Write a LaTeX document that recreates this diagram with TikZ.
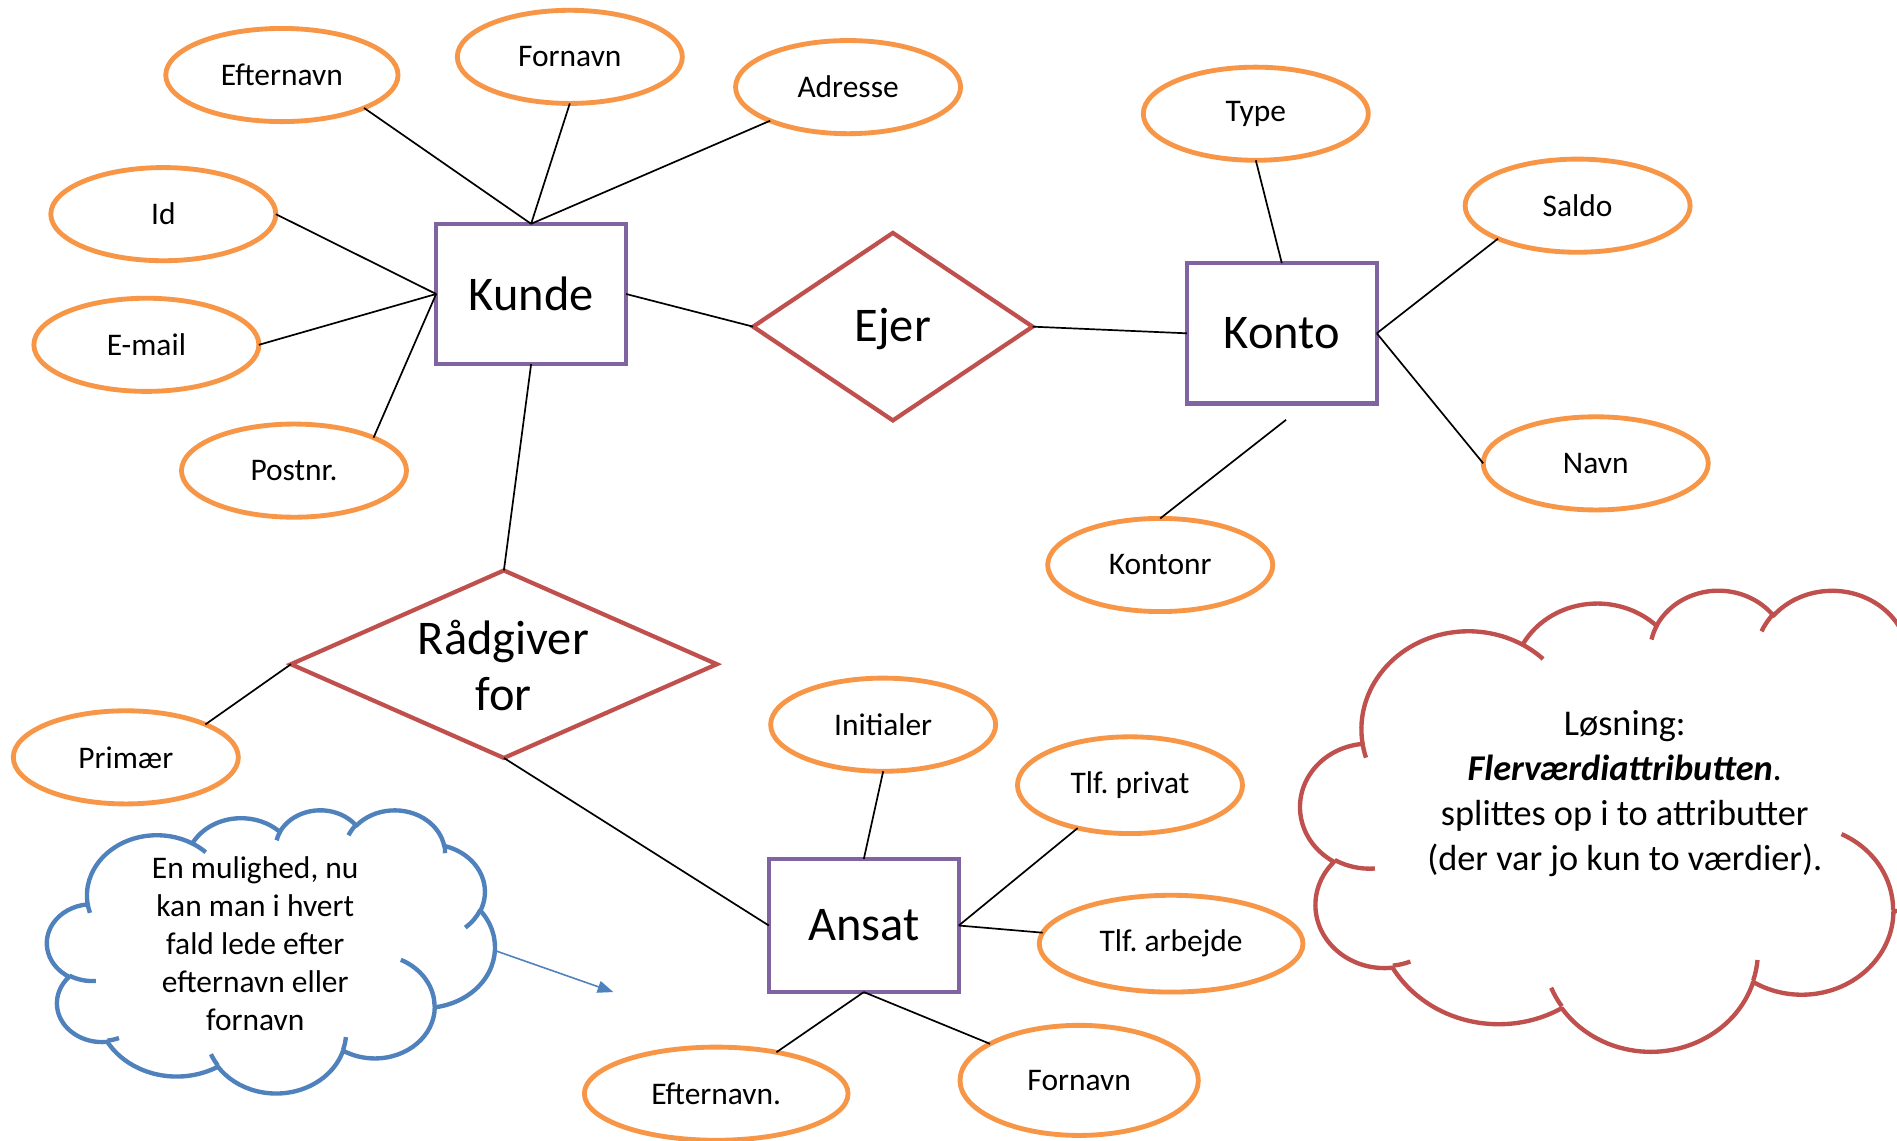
\documentclass[tikz,border=0pt]{standalone}
\usepackage{fontspec}
\setmainfont{Carlito}
\frenchspacing
\usetikzlibrary{shapes.geometric,arrows.meta}
\definecolor{attrorange}{HTML}{F79646}
\definecolor{entpurple}{HTML}{8064A2}
\definecolor{relred}{HTML}{C0504D}
\definecolor{noteblue}{HTML}{4F81BD}
% OOXML-style arcTo: x radius, y radius, start (visual) angle, sweep
\newcommand{\carc}[4]{arc[start angle={atan2(#1*sin(#3),#2*cos(#3))}, delta angle={mod(atan2(#1*sin(#3+#4),#2*cos(#3+#4))-atan2(#1*sin(#3),#2*cos(#3))+720,360)}, x radius=#1pt, y radius=#2pt]}
\newcommand{\cloudouter}{(9.028,33.264)
  \carc{15.632}{21.273}{-190.4875}{123.7805}
  \carc{12.345}{16.822}{-144.1024}{89.9452}
  \carc{10.104}{13.762}{-145.8079}{99.7230}
  \carc{11.243}{15.266}{-130.9861}{117.2417}
  \carc{12.345}{16.836}{-78.7089}{109.0269}
  \carc{15.683}{21.343}{-46.2673}{130.2690}
  \carc{13.391}{18.211}{0.6250}{114.0333}
  \carc{15.630}{21.331}{22.4516}{115.1726}
  \carc{17.870}{24.405}{66.2426}{75.7110}
  \carc{10.093}{13.699}{-274.9421}{146.7356}
  \carc{10.058}{13.762}{-246.8285}{152.5189} -- cycle}
\newcommand{\cloudinner}{%
  (10.863,60.595) \carc{10.058}{13.762}{86.742}{26.430}
  (16.037,80.785) \carc{10.093}{13.699}{73.610}{11.447}
  (38.144,90.486) \carc{15.630}{21.331}{137.624}{14.081}
  (66.729,80.442) \carc{15.630}{21.331}{6.453}{15.998}
  (79.002,53.134) \carc{13.391}{18.211}{-70.292}{70.917}
  (96.755,35.542) \carc{12.345}{16.836}{30.318}{27.752}
  (88.713,12.560) \carc{11.243}{15.266}{-13.744}{14.859}
  (67.310,9.148)  \carc{11.243}{15.266}{-149.181}{18.195}
  (51.252,10.926) \carc{10.104}{13.762}{-163.494}{17.686}
  (32.407,12.019) \carc{15.632}{21.273}{-66.707}{12.319}
  (9.553,36.549)  \carc{15.632}{21.273}{157.654}{11.858}}
\begin{document}
\begin{tikzpicture}[x=1pt,y=-1pt,
  attr/.style={ellipse, draw=attrorange, line width=4pt, fill=white, inner sep=0pt, outer sep=0pt,
    minimum width=186pt, minimum height=77pt, font=\fontsize{26}{31}\selectfont},
  ent/.style={rectangle, draw=entpurple, line width=3.5pt, fill=white, inner sep=0pt, outer sep=0pt,
    minimum width=157pt, minimum height=116pt, font=\fontsize{40}{48}\selectfont},
  rel/.style={diamond, draw=relred, line width=3.5pt, inner sep=0pt, outer sep=0pt},
  reltext/.style={font=\fontsize{40}{46}\selectfont, align=center, inner sep=0pt},
  conn/.style={black, line width=1.4pt},
  cloudline/.style={line width=3.6pt, line join=round},
  notetext/.style={align=center, inner sep=0pt}]
\fill[white] (0,0) rectangle (1568,943);
\useasboundingbox (0,0) rectangle (1568,943);

% entities
\node[ent] (kunde) at (439,243) {Kunde};
\node[ent] (konto) at (1059.5,275.5) {Konto};
\node[ent, minimum height=110pt] (ansat) at (714,765) {Ansat};

% relationships
\node[rel, minimum width=231pt, minimum height=155pt] (ejer) at (738,270) {};
\node[reltext] at (738,272) {Ejer};
\node[rel, minimum width=352pt, minimum height=155pt] (raad) at (416.5,549) {};
\node[reltext] at (416,550) {Rådgiver\\for};

% attributes
\node[attr, minimum width=192pt] (ef1) at (233,62) {Efternavn};
\node[attr] (fo1) at (471,47) {Fornavn};
\node[attr] (ad) at (701,72) {Adresse};
\node[attr] (id) at (135,177) {Id};
\node[attr] (em) at (121,285) {E-mail};
\node[attr] (po) at (243,389) {Postnr.};
\node[attr] (ty) at (1038,94) {Type};
\node[attr] (sa) at (1304,170) {Saldo};
\node[attr] (na) at (1319,383) {Navn};
\node[attr] (ko) at (959,467) {Kontonr};
\node[attr] (pr) at (104,626) {Primær};
\node[attr] (in) at (730,599) {Initialer};
\node[attr, minimum height=80pt] (tp) at (934,649) {Tlf. privat};
\node[attr, minimum width=218pt, minimum height=80pt] (ta) at (968,780) {Tlf. arbejde};
\node[attr, minimum width=218pt] (ef2) at (592,904) {Efternavn.};
\node[attr, minimum width=197pt, minimum height=91pt] (fo2) at (892,893) {Fornavn};

\coordinate (kontogap) at (1063,347);

% connectors
\draw[conn] (ef1.south east) -- (kunde.north);
\draw[conn] (fo1.south) -- (kunde.north);
\draw[conn] (ad) -- (kunde.north);
\draw[conn] (id.east) -- (kunde.west);
\draw[conn] (em.east) -- (kunde.west);
\draw[conn] (po.north east) -- (kunde.west);
\draw[conn] (kunde.east) -- (ejer.west);
\draw[conn] (ejer.east) -- (konto.west);
\draw[conn] (ty.south) -- (konto.north);
\draw[conn] (sa.south west) -- (konto.east);
\draw[conn] (na.west) -- (konto.east);
\draw[conn] (ko.north) -- (kontogap);
\draw[conn] (kunde.south) -- (raad.north);
\draw[conn] (pr.north east) -- (raad.west);
\draw[conn] (raad.south) -- (ansat.west);
\draw[conn] (in.south) -- (ansat.north);
\draw[conn] (tp) -- (ansat.east);
\draw[conn] (ta) -- (ansat.east);
\draw[conn] (ansat.south) -- (ef2);
\draw[conn] (ansat.south) -- (fo2);

% blue cloud
\begin{scope}[x=1pt,y=1pt,shift={(39,-669)},xscale=3.70,yscale=-2.34]
  \draw[cloudline, draw=noteblue, fill=white] \cloudouter;
  \draw[cloudline, draw=noteblue] \cloudinner;
\end{scope}
\node[notetext, font=\fontsize{26}{31.5}\selectfont] (bluenote) at (211,780)
  {En mulighed, nu\\kan man i hvert\\fald lede efter\\efternavn eller\\fornavn};
\coordinate (arrowstart) at (410,786);
\coordinate (arrowend) at (507,820);
\draw[noteblue, line width=1.3pt, -{Triangle[length=13pt,width=10pt]}] (arrowstart) -- (arrowend);

% red cloud
\begin{scope}[x=1pt,y=1pt,shift={(1075,-487)},xscale=5.66,yscale=-3.81]
  \draw[cloudline, draw=relred, fill=white] \cloudouter;
  \draw[cloudline, draw=relred] \cloudinner;
\end{scope}
\node[notetext, font=\fontsize{30}{37}\selectfont] (rednote) at (1343,656)
  {Løsning:\\\textbf{\textit{Flerværdiattributten}}.\\splittes op i to attributter\\(der var jo kun to værdier).};
\end{tikzpicture}
\end{document}
